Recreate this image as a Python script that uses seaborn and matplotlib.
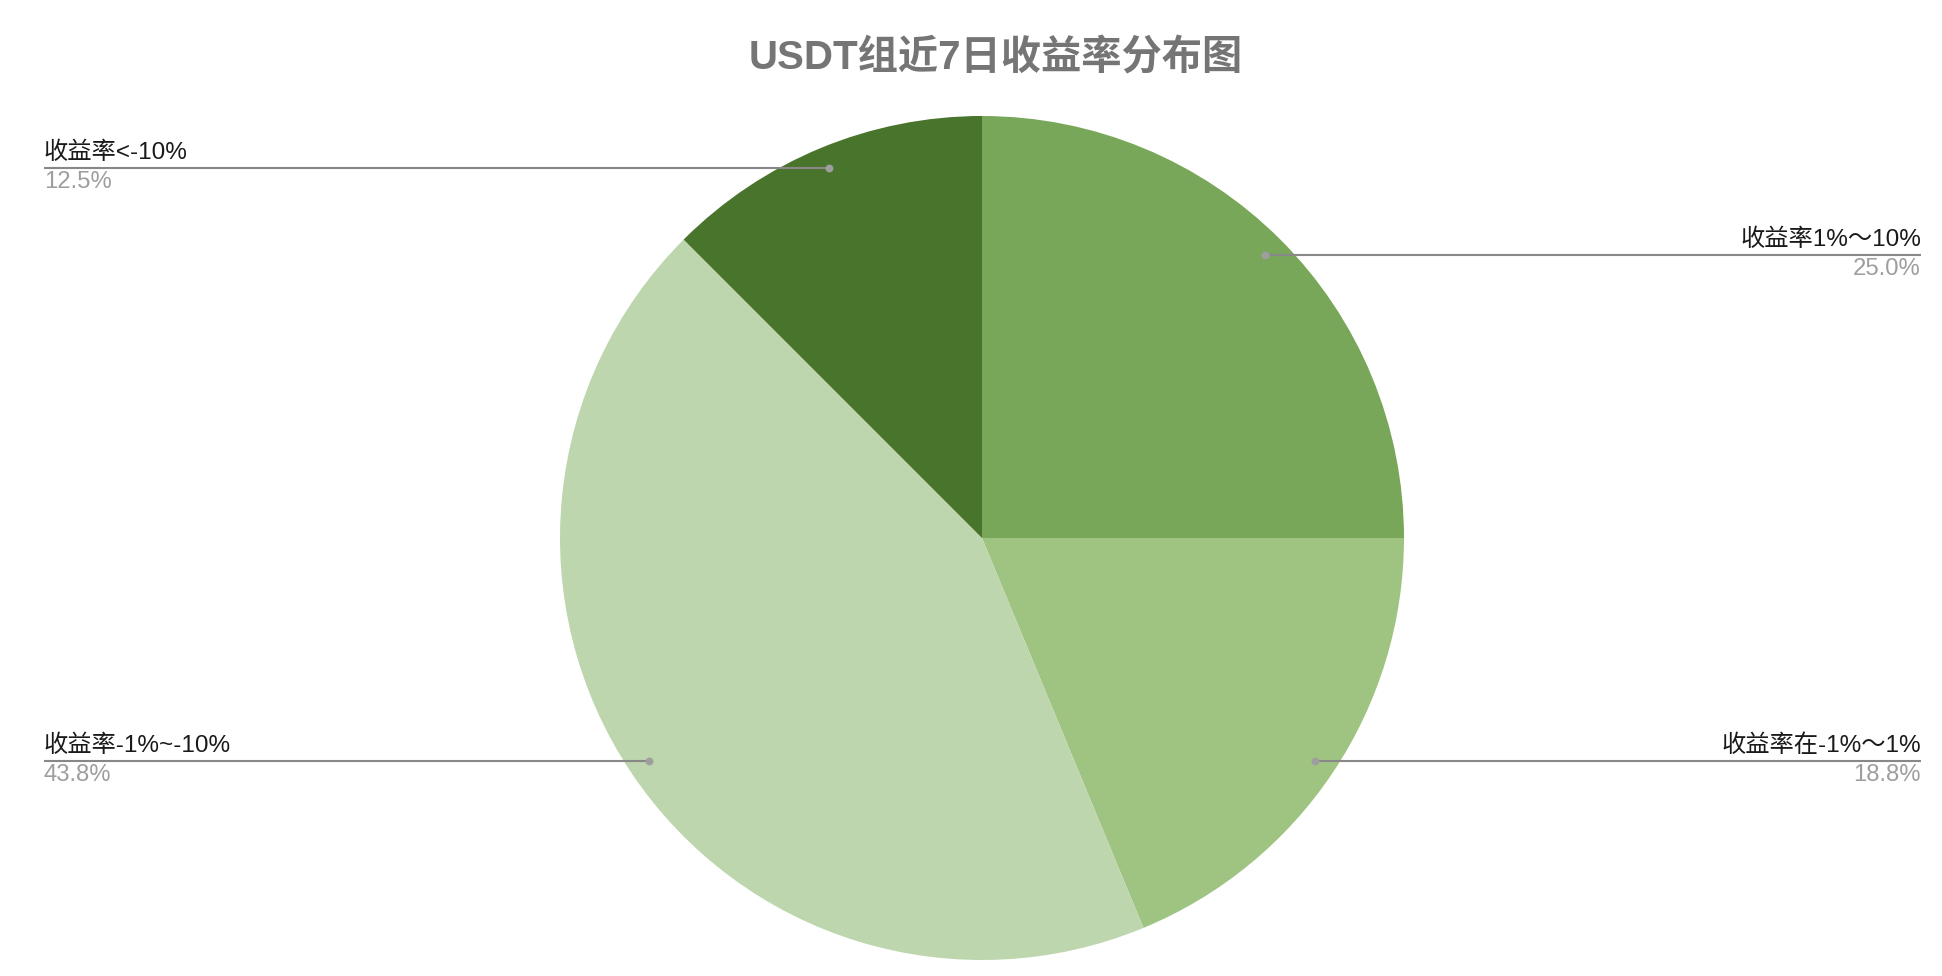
import numpy as np
import matplotlib
matplotlib.use("Agg")
import matplotlib.pyplot as plt
import seaborn as sns

title = "USDT组近7日收益率分布图"
labels = ["收益率1%～10%", "收益率在-1%～1%", "收益率-1%~-10%", "收益率<-10%"]
shares = [25.0, 18.75, 43.75, 12.5]
colors = ["#79a75a", "#9fc482", "#bdd6ad", "#48742c"]

W, H = 1942, 976
cx, cy, R = 982, H - 538, 422

sns.set_theme(style="white")
plt.rcParams['font.family'] = ['Liberation Sans', 'Noto Sans CJK SC', 'DejaVu Sans']

fig = plt.figure(figsize=(W / 100, H / 100), dpi=100)
ax = fig.add_axes([0, 0, 1, 1])

ax.pie(shares, colors=colors, startangle=90, counterclock=False,
       center=(cx, cy), radius=R, wedgeprops=dict(linewidth=0))
ax.set_xlim(0, W)
ax.set_ylim(0, H)
ax.set_aspect("auto")
ax.axis("off")

# leader lines + labels
total = sum(shares)
start = 90.0
for lab, v in zip(labels, shares):
    mid = np.deg2rad(start - 360 * v / total / 2)
    start -= 360 * v / total
    dx = cx + 0.95 * R * np.cos(mid)
    dy = cy + 0.95 * R * np.sin(mid)
    if dx < cx:
        x_txt, ha = 44, "left"
    else:
        x_txt, ha = 1921, "right"
    ax.plot([dx, x_txt], [dy, dy], color="#888888", lw=1.5, solid_capstyle="butt")
    ax.scatter([dx], [dy], s=32, color="#9e9e9e", zorder=5, linewidths=0)
    ax.text(x_txt, dy + 4, lab, ha=ha, va="bottom", fontsize=17.5, color="#1a1a1a")
    ax.text(x_txt, dy - 3, f"{v:.1f}%", ha=ha, va="top", fontsize=17.2, color="#9e9e9e")

ax.text(996, H - 57, title, ha="center", va="center", fontsize=29,
        fontweight="bold", color="#757575")

fig.savefig("out.png", dpi=100)
